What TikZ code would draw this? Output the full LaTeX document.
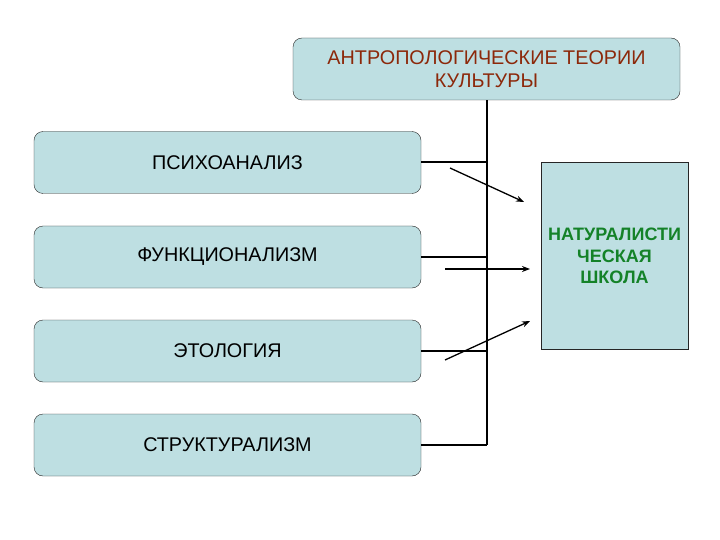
\documentclass[tikz,border=0pt]{standalone}
\usepackage{fontspec}
\setmainfont{Liberation Sans}
\usetikzlibrary{arrows.meta}
\definecolor{boxfill}{RGB}{190,223,226}
\definecolor{titlered}{RGB}{140,40,10}
\definecolor{schoolgreen}{RGB}{20,130,40}
\begin{document}
\begin{tikzpicture}[x=1pt, y=-1pt,
  theory/.style={draw=black!85, fill=boxfill, rounded corners=9pt, minimum width=387pt, minimum height=62pt, inner sep=0pt, font=\fontsize{19.8}{23}\selectfont},
  link/.style={line width=2pt},
  push/.style={line width=1.3pt, -{Stealth[length=8pt, width=6pt]}}]
\useasboundingbox (0,0) rectangle (720,540);

\node[theory, text=titlered, align=center] (top) at (486.5,69) {АНТРОПОЛОГИЧЕСКИЕ ТЕОРИИ\\КУЛЬТУРЫ};
\node[theory] (psy) at (227.5,162.5) {ПСИХОАНАЛИЗ};
\node[theory] (func) at (227.5,257) {ФУНКЦИОНАЛИЗМ};
\node[theory] (etho) at (227.5,351) {ЭТОЛОГИЯ};
\node[theory] (struct) at (227.5,445) {СТРУКТУРАЛИЗМ};
\node[draw=black!85, fill=boxfill, minimum width=147pt, minimum height=187pt, inner sep=0pt, text=schoolgreen, align=center, font=\bfseries\fontsize{18}{21.5}\selectfont] (school) at (614.5,256) {НАТУРАЛИСТИ\\ЧЕСКАЯ\\ШКОЛА};

\draw[link] (top.south) -- (top.south |- struct.east);
\foreach \n in {psy,func,etho,struct}
  \draw[link] (\n.east) -- (\n.east -| top.south);

\coordinate (from1) at (450,168);
\coordinate (to1) at (524,202);
\coordinate (from2) at (445,269);
\coordinate (to2) at (530,269);
\coordinate (from3) at (445,360);
\coordinate (to3) at (530,321);

\draw[push] (from1) -- (to1);
\draw[push] (from2) -- (to2);
\draw[push] (from3) -- (to3);

\end{tikzpicture}
\end{document}
